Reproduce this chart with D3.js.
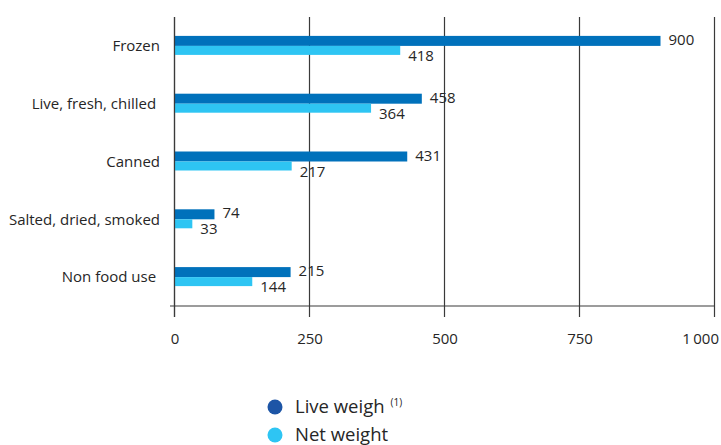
<!DOCTYPE html>
<html><head><meta charset="utf-8">
<script src="https://cdn.jsdelivr.net/npm/d3@7"></script>
<style>
html,body{margin:0;padding:0;background:#fff;}
svg{display:block;font-family:"Open Sans",sans-serif;}
</style></head>
<body><svg id="c" width="721" height="445"></svg>
<script>
const categories = ["Frozen", "Live, fresh, chilled ", "Canned", "Salted, dried, smoked", "Non food use "];
const liveWeight = [900, 458, 431, 74, 215];
const netWeight = [418, 364, 217, 33, 144];
const tickValues = [0, 250, 500, 750, 1000];
const tickLabels = ["0", "250", "500", "750", "1\u2009000"];
const seriesNames = ["Live weigh", "Net weight"];

const svg = d3.select("#c");
const x = d3.scaleLinear().domain([0, 1000]).range([174.5, 714.5]);
const y = d3.scaleBand().domain(categories).range([17, 306]).padding(0);
const textCol = "#262626";
const darkCol = "#0071bb", lightCol = "#2ec5f3", legendDark = "#1d55a6";
const fs = 15;

// gridlines
svg.append("g").selectAll("line").data(tickValues).join("line")
  .attr("x1", d => x(d)).attr("x2", d => x(d))
  .attr("y1", 17).attr("y2", 317)
  .attr("stroke", "#3a3a3a").attr("stroke-width", 1.2);

// x axis line
svg.append("line").attr("x1", 170).attr("x2", x(1000)).attr("y1", 306).attr("y2", 306)
  .attr("stroke", "#3a3a3a").attr("stroke-width", 1.2);

// tick labels via axis
const ax = svg.append("g").attr("transform", "translate(0,306)")
  .call(d3.axisBottom(x).tickValues(tickValues).tickSize(0).tickPadding(27)
    .tickFormat((d, i) => tickLabels[i]));
ax.select(".domain").remove();
ax.selectAll("text").attr("font-size", fs).attr("fill", textCol).attr("font-family", "Open Sans, sans-serif")
  .attr("text-anchor", (d, i) => i === tickValues.length - 1 ? "end" : "middle")
  .attr("dx", (d, i) => i === tickValues.length - 1 ? 4 : 0);

const rows = categories.map((c, i) => ({c, live: liveWeight[i], net: netWeight[i]}));
const mid = c => y(c) + y.bandwidth() / 2;

const g = svg.append("g");
g.selectAll("rect.live").data(rows).join("rect").attr("class", "live")
  .attr("x", x(0)).attr("y", d => mid(d.c) - 10).attr("height", 10)
  .attr("width", d => x(d.live) - x(0)).attr("fill", darkCol);
g.selectAll("rect.net").data(rows).join("rect").attr("class", "net")
  .attr("x", x(0)).attr("y", d => mid(d.c)).attr("height", 9)
  .attr("width", d => x(d.net) - x(0)).attr("fill", lightCol);

// redraw left axis on top
svg.append("line").attr("x1", x(0)).attr("x2", x(0)).attr("y1", 17).attr("y2", 317)
  .attr("stroke", "#3a3a3a").attr("stroke-width", 1.2);

g.selectAll("text.lv").data(rows).join("text").attr("class", "lv")
  .attr("x", d => x(d.live) + 8).attr("y", d => mid(d.c) - 1)
  .attr("font-size", fs).attr("fill", textCol).text(d => d.live);
g.selectAll("text.nv").data(rows).join("text").attr("class", "nv")
  .attr("x", d => x(d.net) + 8).attr("y", d => mid(d.c) + 15)
  .attr("font-size", fs).attr("fill", textCol).text(d => d.net);

// category labels
svg.append("g").selectAll("text").data(categories).join("text")
  .attr("x", 160).attr("y", d => mid(d)).attr("dy", "0.35em")
  .attr("text-anchor", "end").attr("font-size", fs).attr("fill", textCol)
  .style("white-space", "pre").text(d => d);

// legend
const leg = svg.append("g");
[legendDark, lightCol].forEach((col, i) => {
  const ly = 407 + i * 28;
  leg.append("circle").attr("cx", 275).attr("cy", ly).attr("r", 7.5).attr("fill", col);
  const t = leg.append("text").attr("x", 295).attr("y", ly).attr("dy", "0.35em")
    .attr("font-size", 18.5).attr("fill", textCol).text(seriesNames[i]);
  if (i === 0) t.append("tspan").attr("dx", 6).attr("dy", -7).attr("font-size", 10).text("(1)");
});
</script></body></html>
